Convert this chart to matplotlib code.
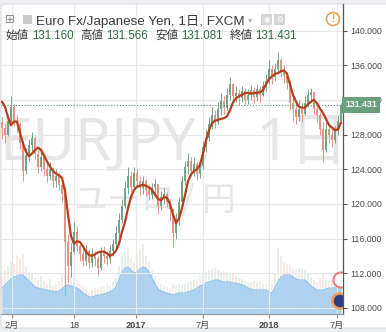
import numpy as np
import matplotlib.pyplot as plt
from matplotlib.patches import Rectangle, FancyBboxPatch, Circle
from matplotlib.ticker import FormatStrFormatter

plt.rcParams['font.family'] = ['Liberation Sans', 'Noto Sans CJK JP']

# EUR/JPY candles, one bar per ~week of trading, Jan 2016 - Jul 2018
first_open = 129.5
closes = [128.8, 128.0, 129.6, 131.2, 129.6, 129.2, 127.0, 123.8, 125.6, 126.8,
          127.6, 125.8, 124.2, 125.4, 124.0, 123.2, 124.0, 122.6, 123.2, 122.2,
          121.2, 115.6, 112.8, 114.5, 116.8, 115.2, 114.2, 113.4, 114.6, 113.2,
          114.2, 113.6, 112.6, 114.4, 114.0, 113.6, 114.6, 115.4, 116.6, 118.2,
          119.8, 121.8, 123.2, 122.0, 123.6, 122.6, 121.8, 122.6, 121.6, 121.0,
          121.9, 122.3, 119.8, 120.8, 121.2, 120.2, 119.4, 116.6, 118.2, 120.2,
          122.6, 124.2, 124.9, 123.8, 124.6, 123.4, 124.4, 126.6, 127.6, 129.2,
          130.2, 129.4, 131.0, 131.9, 131.1, 132.6, 133.8, 132.5, 132.8, 132.2,
          133.0, 132.0, 132.6, 133.1, 132.3, 133.2, 132.6, 133.6, 134.2, 135.6,
          134.6, 135.6, 136.6, 135.2, 134.8, 134.0, 131.6, 131.0, 130.0, 131.0,
          130.4, 131.6, 132.6, 132.9, 131.0, 130.2, 128.6, 126.2, 128.6, 127.9,
          127.4, 128.4, 129.6, 131.431]
highs = [130.0, 129.3, 130.2, 132.4, 131.5, 130.3, 129.5, 127.2, 126.5, 127.5,
         128.3, 127.8, 126.2, 126.4, 125.6, 124.6, 124.8, 124.2, 124.0, 123.6,
         122.8, 122.0, 116.5, 115.5, 117.9, 117.4, 115.6, 115.0, 115.3, 114.8,
         114.9, 114.6, 114.0, 115.0, 115.1, 114.5, 115.3, 116.0, 117.4, 119.0,
         120.6, 122.6, 124.2, 123.8, 124.3, 124.0, 123.2, 123.2, 122.9, 122.2,
         122.4, 122.9, 122.0, 121.5, 121.8, 121.4, 120.6, 119.4, 119.0, 120.8,
         123.2, 125.0, 125.9, 125.4, 125.4, 124.8, 125.0, 127.2, 128.6, 130.0,
         131.2, 130.8, 131.8, 132.8, 132.4, 133.4, 134.6, 134.0, 133.6, 133.3,
         133.6, 133.4, 133.2, 133.7, 133.5, 133.8, 133.6, 134.2, 135.0, 136.6,
         136.0, 136.2, 137.5, 136.8, 136.0, 135.2, 134.2, 132.4, 131.6, 132.0,
         131.6, 132.4, 133.2, 133.4, 133.0, 131.6, 130.6, 129.4, 129.6, 129.2,
         128.6, 129.0, 130.2, 131.6]
lows = [127.5, 127.0, 127.8, 129.0, 129.0, 128.2, 126.3, 122.6, 123.5, 125.0,
        126.0, 125.2, 123.6, 123.8, 123.2, 122.5, 122.8, 122.0, 122.0, 121.6,
        120.2, 109.5, 111.0, 111.6, 114.2, 114.6, 113.4, 112.8, 113.0, 112.6,
        112.7, 112.8, 111.8, 112.4, 113.2, 112.9, 113.2, 114.0, 115.0, 116.2,
        117.8, 119.5, 121.2, 121.4, 121.6, 121.8, 121.0, 121.2, 120.9, 120.4,
        120.6, 120.8, 118.8, 119.3, 120.0, 119.6, 118.2, 115.0, 116.0, 117.6,
        119.8, 122.2, 123.5, 123.2, 123.2, 122.8, 123.0, 124.0, 126.0, 127.2,
        128.6, 128.8, 129.2, 130.2, 130.4, 130.8, 132.0, 131.8, 131.8, 131.4,
        131.8, 131.4, 131.5, 132.0, 131.6, 131.9, 131.8, 132.4, 133.0, 133.8,
        133.8, 134.2, 135.0, 134.6, 134.0, 133.2, 130.8, 129.6, 129.2, 129.6,
        129.4, 130.2, 131.2, 131.8, 130.4, 129.4, 128.0, 124.8, 126.0, 127.0,
        126.6, 127.0, 128.0, 129.6]
moving_avg = [131.8, 131.2, 130.0, 129.1, 129.5, 129.5, 128.2, 127.0, 126.0, 125.5,
              125.8, 126.2, 126.5, 126.2, 125.6, 124.9, 124.3, 123.8, 123.5, 123.3,
              123.0, 121.5, 118.8, 116.3, 115.4, 115.7, 115.6, 115.1, 114.5, 114.1,
              114.0, 114.2, 114.4, 114.5, 114.5, 114.3, 114.0, 114.2, 114.6, 115.4,
              116.8, 117.9, 119.5, 120.8, 121.6, 122.0, 122.1, 122.2, 122.1, 121.9,
              121.6, 121.1, 120.6, 120.4, 120.8, 120.7, 120.0, 118.8, 117.8, 118.3,
              119.5, 121.0, 122.6, 123.4, 123.8, 124.0, 124.5, 125.8, 127.3, 128.5,
              129.3, 129.6, 129.7, 129.8, 129.9, 130.1, 130.8, 131.7, 132.2, 132.4,
              132.6, 132.8, 132.8, 132.7, 132.8, 132.8, 132.9, 133.1, 133.8, 134.4,
              134.7, 135.0, 135.1, 135.3, 135.4, 135.0, 133.8, 132.6, 131.8, 131.2,
              131.1, 131.1, 131.5, 131.8, 132.0, 131.6, 131.0, 130.5, 129.8, 129.1,
              128.8, 128.5, 128.6, 129.4]
# volume (thousand lots) and its moving average
volume = [38, 44, 48, 52, 50, 58, 55, 60, 48, 42,
          40, 36, 34, 38, 33, 30, 35, 28, 30, 33,
          40, 72, 45, 38, 36, 34, 30, 28, 25, 22,
          24, 26, 25, 27, 28, 30, 28, 32, 36, 48,
          58, 62, 66, 55, 52, 60, 64, 70, 58, 52,
          44, 38, 32, 30, 28, 27, 26, 30, 28, 30,
          29, 30, 31, 32, 34, 35, 38, 40, 42, 44,
          45, 46, 44, 42, 43, 42, 40, 41, 38, 36,
          35, 33, 32, 32, 33, 31, 32, 30, 30, 28,
          30, 40, 66, 58, 52, 50, 48, 46, 44, 46,
          45, 44, 40, 36, 34, 32, 36, 40, 34, 33,
          34, 36, 33, 32]
volume_ma = [26, 29, 32, 35, 37, 38, 39, 39, 36, 33,
             30, 27, 26, 25, 25, 24, 23, 23, 22, 23,
             25, 28, 29, 28, 27, 26, 24, 21, 19, 17,
             17, 18, 19, 19, 20, 21, 22, 24, 27, 34,
             42, 46, 47, 44, 41, 42, 45, 47, 46, 42,
             36, 30, 25, 23, 22, 21, 20, 19, 20, 21,
             21, 21, 22, 23, 24, 26, 28, 29, 31, 32,
             33, 34, 34, 33, 32, 32, 32, 31, 31, 30,
             29, 28, 26, 25, 24, 24, 24, 24, 24, 22,
             21, 27, 32, 37, 39, 39, 39, 37, 35, 34,
             34, 34, 31, 28, 26, 24, 24, 24, 25, 26,
             26, 26, 26, 26]

price_ticks = [108, 112, 116, 120, 124, 128, 132, 136, 140]
date_labels = ['2月', '18', '2017', '7月', '2018', '7月']
date_bars = [3.3, 24, 44.7, 67, 89, 111.7]
last_price = 131.431
ohlc_names = ['始値', '高値', '安値', '終値']
ohlc_values = ['131.160', '131.566', '131.081', '131.431']

W, H = 386, 332
fig = plt.figure(figsize=(W / 100, H / 100), dpi=100)
fig.patch.set_facecolor('#eceef1')


def fx(px):
    return px / W


def fy(py):
    return 1 - py / H


panel = FancyBboxPatch((fx(1), fy(328)), fx(420) - fx(1), fy(4) - fy(328),
                       boxstyle='round,pad=0,rounding_size=0.012',
                       transform=fig.transFigure, fc='white', ec='#d9dce0',
                       lw=0.8, zorder=0)
fig.patches.append(panel)

# watermark
fig.text(fx(0), fy(160), 'EURJPY,   1日', fontsize=42, color='#e6e6e6',
         family=['Noto Sans', 'Noto Sans CJK JP'], va='baseline', zorder=0.5)
fig.text(fx(74), fy(200), 'ユーロ / 円', fontsize=24, color='#e6e6e6',
         family=['Noto Sans CJK JP'], va='center', zorder=0.5)

rect = [fx(1), fy(314), fx(343) - fx(1), fy(4) - fy(314)]
ax = fig.add_axes(rect)
ax_vol = ax.twinx()
ax.set_zorder(2)
ax_vol.set_zorder(1)
ax.patch.set_visible(False)
ax_vol.patch.set_visible(False)

x = np.arange(len(closes))
closes = np.array(closes)
opens = np.r_[first_open, closes[:-1]]
up = closes >= opens

# volume pane
ax_vol.bar(x, volume, width=0.4, color=np.where(up, '#d3e6da', '#f5dcd7'),
           alpha=0.6, lw=0)
ax_vol.fill_between(x, volume_ma, color='#a3cdef', alpha=0.85, lw=0)
ax_vol.plot(x, volume_ma, color='#8cc1ec', lw=0.8)
ax_vol.set_ylim(0, 310)
ax_vol.axis('off')

# candles
colors = np.where(up, '#739f84', '#e2907f')
ax.vlines(x, lows, highs, colors=colors, lw=0.7, alpha=0.95)
ax.bar(x, np.abs(closes - opens), bottom=np.minimum(opens, closes),
       width=0.75, color=colors, lw=0, alpha=0.95)
ax.plot(x, moving_avg, color='#b3401d', lw=1.6, solid_capstyle='round')
ax.axhline(last_price, color='#4e9a69', lw=0.8, ls=(0, (1, 1.6)))

ax.set_yticks(price_ticks)
ax.yaxis.tick_right()
ax.yaxis.set_major_formatter(FormatStrFormatter('%.3f'))
ax.set_xticks(date_bars, date_labels)
for lbl in ax.get_xticklabels():
    if lbl.get_text() in ('2017', '2018'):
        lbl.set_fontweight('bold')
ax.grid(True, color='#e8e8e8', lw=0.8)
ax.set_axisbelow(True)
ax.tick_params(axis='y', length=3, width=0.8, color='#555555', labelsize=6.3,
               labelcolor='#4a4a4a', pad=2)
ax.tick_params(axis='x', length=3, width=0.8, color='#888888', labelsize=6.6,
               labelcolor='#4a4a4a', pad=2)
for side in ('left', 'top'):
    ax.spines[side].set_visible(False)
ax.spines['right'].set_color('#555555')
ax.spines['right'].set_linewidth(0.9)
ax.spines['bottom'].set_color('#999999')
ax.spines['bottom'].set_linewidth(0.9)

ax.text(1.006, last_price, '131.431', transform=ax.get_yaxis_transform(),
        ha='left', va='center', fontsize=6.3, fontweight='bold', color='white',
        bbox=dict(boxstyle='square,pad=0.4', fc='#6a9f7d', ec='none'),
        clip_on=False, zorder=5)

# event markers at the bottom right
ax.add_patch(Circle((341 / 100, (H - 280) / 100), 0.075,
                    transform=fig.dpi_scale_trans, fc='white', ec='#f07482',
                    lw=1.4, zorder=4))
ax.add_patch(Circle((340 / 100, (H - 301) / 100), 0.075,
                    transform=fig.dpi_scale_trans, fc='#2b3f8f', ec='#f39c4a',
                    lw=1.8, zorder=4))

ax.set_xlim(-0.33, 113.67)
ax.set_ylim(107.3, 143.06)

# header
fig.text(fx(5), fy(19.5), '⊞', fontsize=8.5, color='#8a8a8a',
         family=['DejaVu Sans'], va='center', zorder=5)
fig.patches.append(Rectangle((fx(23), fy(24)), fx(9), fy(15) - fy(24),
                             transform=fig.transFigure, fc='#c9c9c9',
                             ec='none', zorder=5))
fig.text(fx(36), fy(25), 'Euro Fx/Japanese Yen, 1日, FXCM', fontsize=9.6,
         color='#3c3c3c', va='baseline', zorder=5)
fig.text(fx(248), fy(20), '▾', fontsize=6, color='#b0b0b0',
         family=['DejaVu Sans'], va='center', zorder=5)
for left, sym in ((261, '◉'), (274, '⚙')):
    fig.patches.append(Rectangle((fx(left), fy(25)), fx(11), fy(14) - fy(25),
                                 transform=fig.transFigure, fc='#d6d6d6',
                                 ec='none', zorder=5))
    fig.text(fx(left + 5.5), fy(19.5), sym, fontsize=5.5, color='white',
             family=['DejaVu Sans'], ha='center', va='center', zorder=6)
fig.patches.append(Circle((333 / 100, (H - 19) / 100), 0.065,
                          transform=fig.dpi_scale_trans, fc='white',
                          ec='#f39a4d', lw=1.1, zorder=5))
fig.text(fx(333), fy(19), '!', fontsize=7, color='#f39a4d', fontweight='bold',
         ha='center', va='center', zorder=6)

for name, value, lx, vx in zip(ohlc_names, ohlc_values,
                               [6, 80, 155, 230], [32, 106, 181, 255]):
    fig.text(fx(lx), fy(39), name, fontsize=8.3, color='#3a3a3a',
             va='baseline', zorder=5)
    fig.text(fx(vx), fy(39), value, fontsize=8.3, color='#2f6b40',
             va='baseline', zorder=5)

fig.savefig('out.png', dpi=100, facecolor=fig.get_facecolor())
